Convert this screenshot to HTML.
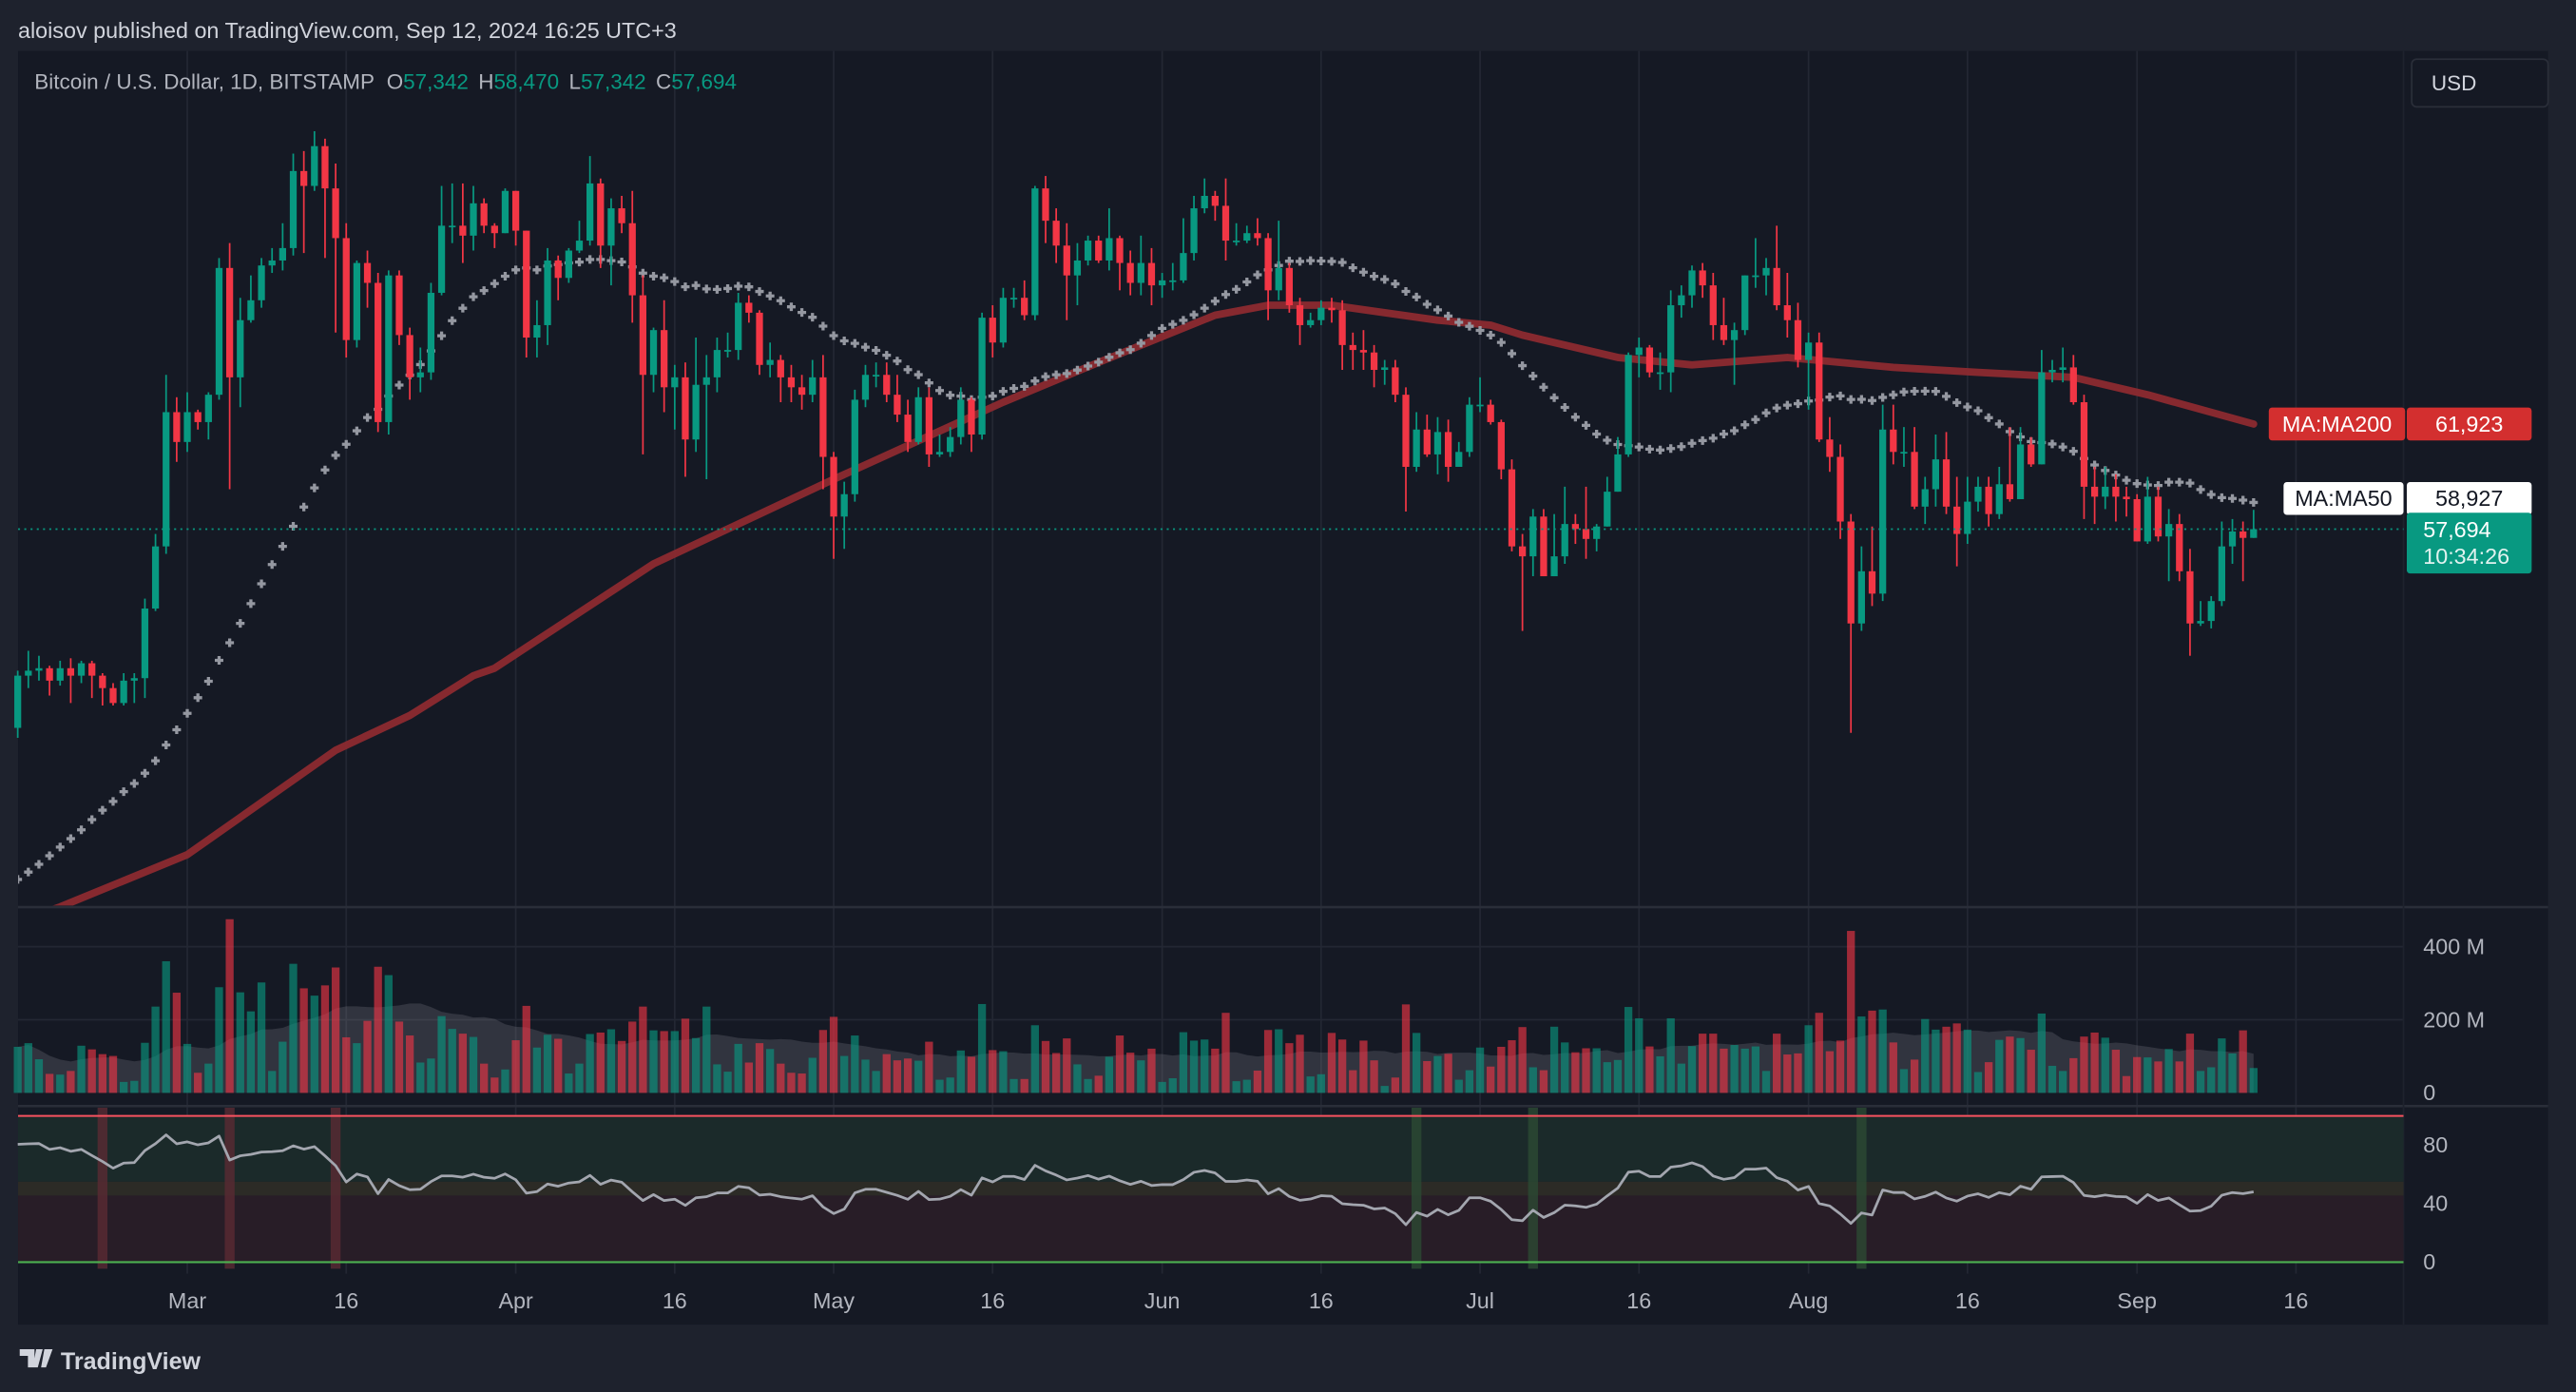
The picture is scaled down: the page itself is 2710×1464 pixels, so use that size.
<!DOCTYPE html>
<html><head><meta charset="utf-8">
<style>
html,body{margin:0;padding:0;background:#1e222d;}
svg{display:block;font-family:"Liberation Sans",sans-serif;}
</style></head>
<body>
<svg id="chart" width="2710" height="1464" viewBox="0 0 1568 847" preserveAspectRatio="none" xmlns="http://www.w3.org/2000/svg">
<rect x="0" y="0" width="1568" height="847" fill="#1e222d"/>
<text x="11" y="23" font-size="13.5" fill="#d1d4dc">aloisov published on TradingView.com, Sep 12, 2024 16:25 UTC+3</text>
<rect x="11" y="31" width="1540" height="775" fill="#151924"/>
<g id="grid"></g>
<g id="rsiBg"></g>
<g id="vol"></g>
<g id="ma200g"></g>
<g id="ma50g"></g>
<g id="candles"></g>
<g id="rsig"></g>
<g id="axes"></g>
<text x="21" y="54" font-size="13" fill="#b2b5be">Bitcoin / U.S. Dollar, 1D, BITSTAMP <tspan dx="4">O</tspan><tspan fill="#089981">57,342</tspan><tspan dx="6">H</tspan><tspan fill="#089981">58,470</tspan><tspan dx="6">L</tspan><tspan fill="#089981">57,342</tspan><tspan dx="6">C</tspan><tspan fill="#089981">57,694</tspan></text>
<rect x="1468" y="36" width="83" height="29" rx="3" fill="#151924" stroke="#2a2e39"/>
<text x="1480" y="55" font-size="13" fill="#d1d4dc">USD</text>
<g>
<path d="M12 821h9v11h-4v-7h-5z M22 821h4l-3 11h-3z M27 821h5l-4 11h-3z" fill="#d1d4dc"/>
<text x="37" y="833" font-size="14.5" font-weight="bold" fill="#d1d4dc">TradingView</text>
</g>
</svg>
<script>
const historyCloses=[41.9,42.3,41.4,42.7,42.3,43.7,43.9,43.9,43.7,43.0,43.6,42.5,43.5,42.6,42.1,42.1,42.3,44.2,45.0,42.8,44.2,44.2,43.9,43.9,47.0,46.1,46.6,46.4,42.8,42.9,41.7,42.5,43.1,42.7,41.3,41.6,41.7,41.6,39.5,39.9,40.1,39.9,41.8,42.1,42.0,43.3,42.9,42.6,43.1,43.2,43.0,42.6,42.7,43.1,44.3,45.3,47.1,47.8,48.3,50.0,49.7];
const closes=[51.8,52.0,52.1,51.6,52.1,51.8,52.3,51.8,51.3,50.7,51.6,51.7,54.5,57.0,62.4,61.2,
62.4,62.0,63.1,68.2,63.8,66.1,66.9,68.3,68.5,69.0,72.1,71.5,73.1,71.4,69.4,65.3,68.4,67.6,62.0,67.9,65.5,63.8,64.0,67.2,69.9,69.9,69.5,70.8,69.9,69.6,71.3,
69.7,65.4,65.9,68.5,67.8,68.9,69.3,71.6,69.1,70.6,70.0,67.1,63.9,65.7,63.4,63.8,61.3,63.5,63.8,64.9,64.9,66.8,66.4,64.3,64.5,63.8,63.4,63.1,63.8,60.6,
58.2,59.1,62.9,63.9,63.9,63.1,62.3,61.2,63.0,60.7,60.8,61.4,62.9,61.5,66.2,65.2,67.0,67.0,66.3,71.4,70.1,69.1,67.9,68.5,69.3,68.5,69.4,68.4,67.6,68.4,67.5,
67.7,67.7,68.8,70.6,71.1,70.7,69.3,69.3,69.6,69.4,67.3,68.2,66.7,65.9,66.1,66.6,66.5,65.1,64.9,64.8,64.1,64.2,63.1,60.2,61.7,60.7,61.6,60.2,60.8,62.7,
62.7,62.0,60.1,57.0,56.6,58.2,55.8,56.6,57.9,57.7,57.3,57.8,59.2,60.7,64.7,65.0,64.0,64.0,66.7,67.1,68.1,67.5,65.9,65.3,65.7,67.9,67.9,68.2,66.7,66.1,64.5,
65.2,61.3,60.6,58.0,53.9,56.0,55.1,61.7,60.8,60.8,58.6,59.3,60.5,58.6,57.5,58.8,59.4,58.3,59.5,58.9,61.1,60.3,64.0,64.1,64.2,62.8,59.4,59.0,59.4,59.0,58.9,
57.2,59.0,57.4,57.9,56.0,53.9,54.0,54.8,57.0,57.6,57.342,57.694];
const highs=[52.0,52.8,52.6,52.2,52.4,52.5,52.4,52.4,51.9,51.5,51.9,51.9,54.9,57.5,63.9,63.0,
63.2,62.5,63.2,68.6,69.2,67.0,67.9,68.6,69.0,70.0,72.8,72.9,73.7,73.4,72.4,70.0,68.5,68.9,68.0,68.1,68.1,65.8,65.0,67.6,71.5,71.6,71.6,71.5,71.0,70.0,71.4,
71.3,69.7,66.9,69.0,68.7,69.0,70.1,72.7,71.8,71.0,71.1,71.3,67.9,65.8,66.9,64.3,64.4,65.4,64.7,65.4,65.6,67.2,67.1,66.5,65.2,64.7,64.3,63.9,64.5,64.7,
60.8,59.6,63.3,64.3,64.4,64.4,63.9,62.9,63.4,63.4,61.5,61.8,63.4,63.0,66.4,66.7,67.4,67.4,67.7,71.5,71.9,70.6,70.0,69.2,69.5,69.5,70.6,69.5,68.9,69.5,69.0,
68.0,68.4,70.2,71.1,71.8,71.3,71.8,70.0,69.9,70.2,69.6,70.1,68.4,67.0,66.4,66.9,67.0,66.9,65.6,65.7,65.1,64.5,64.5,63.4,62.4,62.3,62.2,62.1,61.2,63.0,
63.8,62.9,62.1,60.5,57.5,58.5,58.5,58.3,59.4,58.3,59.4,57.9,59.8,61.4,64.8,65.4,65.1,64.8,67.3,67.5,68.3,68.4,68.0,67.0,66.0,67.9,69.4,68.6,69.9,68.0,66.8,
65.6,65.6,62.2,61.1,58.3,57.0,57.8,62.7,62.7,61.8,61.8,59.8,61.5,61.6,59.8,59.8,59.8,59.8,60.2,61.8,61.8,61.4,64.9,64.5,65.0,64.7,63.1,60.2,60.2,59.9,59.4,
59.1,59.8,59.4,58.5,58.3,56.9,54.8,55.0,58.0,58.1,58.0,58.47];
const lows=[49.3,51.3,51.6,51.0,51.4,50.7,51.5,50.9,50.6,50.6,50.6,50.7,50.9,54.4,56.7,60.4,
60.8,61.7,61.3,62.9,59.3,62.6,66.0,66.6,68.0,68.1,68.7,68.8,71.3,68.6,65.6,64.6,65.0,66.6,61.6,61.5,65.1,62.9,63.2,63.7,67.1,69.2,68.4,68.9,69.6,69.0,69.6,
69.1,64.6,64.6,65.1,66.9,67.6,68.8,69.1,68.2,67.5,69.6,66.0,60.7,63.2,62.4,61.7,59.8,60.8,59.7,63.2,64.6,64.5,66.0,63.9,63.8,62.8,62.8,62.5,62.8,59.3,
56.5,56.9,58.8,62.6,63.4,62.8,62.0,60.8,61.1,60.2,60.6,60.6,61.1,60.8,61.3,64.6,65.0,66.6,66.1,66.1,69.2,68.4,66.1,66.7,68.3,68.4,68.1,67.3,67.1,67.1,66.7,
67.0,67.3,67.6,68.5,70.4,70.1,68.5,69.1,69.2,69.1,66.1,66.9,66.4,65.1,65.8,65.9,66.0,64.1,64.1,64.1,63.4,63.5,62.8,58.4,60.0,60.6,59.9,59.6,60.3,60.6,
62.4,61.9,59.7,56.8,53.6,55.8,55.8,55.8,56.3,57.1,56.5,56.8,57.8,59.5,60.6,63.8,63.8,63.3,63.2,66.2,66.6,67.0,65.3,65.1,63.5,65.5,67.4,67.1,66.5,65.4,64.2,
62.5,61.2,60.0,57.3,49.5,53.6,54.6,54.8,60.3,60.2,58.5,57.9,58.6,58.3,56.2,57.1,58.4,57.8,58.1,58.8,58.9,60.2,60.4,63.6,63.6,62.7,58.1,57.9,58.5,58.0,58.2,
57.2,57.1,57.2,55.6,55.6,52.6,53.8,53.7,54.6,56.3,55.6,57.342];
const volumes=[126,136,92,52,50,60,129,119,106,101,30,33,137,236,360,274,134,55,80,289,475,275,223,302,60,140,353,286,266,294,343,152,136,197,345,322,195,157,83,94,210,175,162,153,80,42,64,144,238,124,159,148,53,80,161,165,174,142,195,236,171,169,169,203,150,236,78,58,134,83,136,120,80,55,53,96,172,208,101,157,91,60,106,89,94,88,140,36,42,116,99,243,117,114,38,38,185,142,109,149,78,38,47,99,157,110,
89,121,30,40,166,143,146,121,219,32,36,61,172,174,136,159,45,51,164,146,62,143,89,19,42,242,164,87,101,107,36,62,124,72,126,144,180,70,62,181,138,111,122,122,84,90,235,204,127,100,204,80,128,162,162,121,131,121,127,60,162,105,108,185,219,114,143,443,209,225,228,138,65,91,202,173,181,190,173,57,84,145,154,150,118,217,74,60,95,154,165,151,118,46,98,97,86,120,86,162,60,70,149,108,171,68];
const ma200Days=[0,4,16,30,37,43,45,60,77,93,102,113,118,124,134,139,142,151,158,167,177,185,194,201,211];
const ma200Values=[41.9,42.5,44.6,48.8,50.2,51.8,52.1,56.3,59.7,62.8,64.4,66.3,66.7,66.7,66.1,65.9,65.5,64.6,64.3,64.6,64.2,64.0,63.8,63.1,61.923];
const rsiRedDays=[8,20,30];
const rsiGreenDays=[132,143,174];
const priceTicks=[45000,47500,50000,52500,55000,57500,60000,62500,65000,67500,70000,72500];
const priceTickLabels=["45,000","47,500","50,000","52,500","55,000","","60,000","62,500","65,000","67,500","70,000","72,500"];
const dateTickDays=[16,31,47,62,77,92,108,123,138,153,169,184,200,215];
const dateTickLabels=["Mar","16","Apr","16","May","16","Jun","16","Jul","16","Aug","16","Sep","16"];
const volTicks=[0,200,400];
const volTickLabels=["0","200 M","400 M"];
const rsiTicks=[0,40,80];
const maLength=30;

const NS="http://www.w3.org/2000/svg";
function X(d){return 114+(d-16)*6.45;}
function Y(p){return 98+(72.5-p)*15.127;}
function YV(v){return 665-v*0.2225;}
function YR(r){return 768-r*0.89;}
function el(tag,attrs,parent){const e=document.createElementNS(NS,tag);for(const k in attrs)e.setAttribute(k,attrs[k]);parent.appendChild(e);return e;}
const G=id=>document.getElementById(id);
const green="#089981",red="#f23645";

const grid=G('grid');
dateTickDays.forEach((d,i)=>{const l=el('line',{x1:X(d),x2:X(d),y1:31,y2:775,stroke:'#232733','stroke-width':1},grid);

});
priceTicks.forEach(p=>{const l=el('line',{x1:11,x2:1463,y1:Y(p),y2:Y(p),stroke:'#232733','stroke-width':1},grid);

});
[YV(200),YV(400),YR(80),YR(43)].forEach(y=>{const l=el('line',{x1:11,x2:1463,y1:y,y2:y,stroke:'#232733'},grid);

});
[552,673].forEach(y=>{const l=el('line',{x1:11,x2:1551,y1:y,y2:y,stroke:'#2a2e39','stroke-width':1.5},grid);

});
const vsep=el('line',{x1:1463,x2:1463,y1:31,y2:806,stroke:'#1e222d','stroke-width':1},grid);



const rb=G('rsiBg');
const z1=el('rect',{x:11,y:YR(100),width:1452,height:YR(55)-YR(100),fill:'#1b2a2a'},rb);


const z2=el('rect',{x:11,y:YR(55),width:1452,height:YR(45.5)-YR(55),fill:'#2c2b26'},rb);


const z3=el('rect',{x:11,y:YR(45.5),width:1452,height:YR(0)-YR(45.5),fill:'#281d27'},rb);


rsiRedDays.forEach(d=>{const s=el('rect',{x:X(d)-3,y:674,width:6,height:98,fill:'#5a2a33',opacity:0.8},rb);

});
rsiGreenDays.forEach(d=>{const s=el('rect',{x:X(d)-3,y:674,width:6,height:98,fill:'#2c4a33',opacity:0.8},rb);

});
const rl1=el('line',{x1:11,x2:1463,y1:YR(100),y2:YR(100),stroke:'#f7525f','stroke-width':1.2},rb);


const rl2=el('line',{x1:11,x2:1463,y1:YR(0),y2:YR(0),stroke:'#4caf50','stroke-width':1.2},rb);



const opens=closes.map((c,i)=>i===0?historyCloses[historyCloses.length-1]:closes[i-1]);

const vg=G('vol');
const vma=volumes.map((v,i)=>{const s=volumes.slice(Math.max(0,i-19),i+1);return s.reduce((a,b)=>a+b,0)/s.length;});
let ap='M'+X(0)+','+YV(0);
vma.forEach((v,i)=>{ap+=' L'+X(i)+','+YV(v);});
ap+=' L'+X(vma.length-1)+','+YV(0)+' Z';
const area=el('path',{d:ap,fill:'#9598a1',opacity:0.22},vg);


volumes.forEach((v,i)=>{const up=closes[i]>=opens[i];
const b=el('rect',{x:X(i)-2.4,y:YV(v),width:4.8,height:YV(0)-YV(v),fill:up?green:red,opacity:0.62},vg);

});

let m2='';
ma200Days.forEach((d,i)=>{m2+=(i?' L':'M')+X(d)+','+Y(ma200Values[i]);});
const m2p=el('path',{d:m2,fill:'none',stroke:'#8c2a30','stroke-width':4.5,'stroke-linecap':'round','stroke-linejoin':'round',opacity:0.95},G('ma200g'));


const clip=el('clipPath',{id:'pc'},G('chart'));
el('rect',{x:11,y:31,width:1452,height:520},clip);
G('ma200g').setAttribute('clip-path','url(#pc)');
G('ma50g').setAttribute('clip-path','url(#pc)');

const all=historyCloses.concat(closes);
const off=historyCloses.length;
const mg=G('ma50g');
closes.forEach((c,i)=>{const k=off+i;const s=all.slice(k-maLength+1,k+1);const m=s.reduce((a,b)=>a+b,0)/s.length;
const x=X(i),y=Y(m);
const p=el('path',{d:`M${x-2.6},${y}h5.2M${x},${y-2.6}v5.2`,stroke:'#9598a1','stroke-width':1.9},mg);

});

const cg=G('candles');
closes.forEach((c,i)=>{const o=opens[i];const h=Math.max(highs[i],o,c),l=Math.min(lows[i],o,c);
const col=c>=o?green:red;const x=X(i);
const w=el('line',{x1:x,x2:x,y1:Y(h),y2:Y(l),stroke:col,'stroke-width':1},cg);


const top=Y(Math.max(o,c)),bot=Y(Math.min(o,c));
const b=el('rect',{x:x-2.1,y:top,width:4.2,height:Math.max(1,bot-top),fill:col},cg);

});

const last=closes[closes.length-1];
const lp=el('line',{x1:11,x2:1463,y1:Y(last),y2:Y(last),stroke:'#089981','stroke-width':1,'stroke-dasharray':'1.2,2.6'},G('axes'));



let gains=0,losses=0;const N=14;
for(let k=1;k<=N;k++){const ch=all[k]-all[k-1];if(ch>0)gains+=ch;else losses-=ch;}
let ag=gains/N,al=losses/N;const rsi=[];
for(let k=N+1;k<all.length;k++){const ch=all[k]-all[k-1];ag=(ag*(N-1)+Math.max(ch,0))/N;al=(al*(N-1)+Math.max(-ch,0))/N;
if(k>=off)rsi.push(100-100/(1+ag/al));}
let rp='';rsi.forEach((r,i)=>{rp+=(i?' L':'M')+X(i)+','+YR(r);});
const rpl=el('path',{d:rp,fill:'none',stroke:'#a3a6af','stroke-width':1.6,'stroke-linejoin':'round'},G('rsig'));



const ax=G('axes');
priceTicks.forEach((p,i)=>{if(!priceTickLabels[i])return;const t=el('text',{x:1522,y:Y(p)+4.5,'font-size':13.5,fill:'#b2b5be','text-anchor':'end'},ax);t.textContent=priceTickLabels[i];

});
volTicks.forEach((v,i)=>{const t=el('text',{x:1475,y:YV(v)+4.5,'font-size':13.5,fill:'#b2b5be'},ax);t.textContent=volTickLabels[i];

});
rsiTicks.forEach(r=>{const t=el('text',{x:1475,y:YR(r)+4.5,'font-size':13.5,fill:'#b2b5be'},ax);t.textContent=String(r);

});
dateTickDays.forEach((d,i)=>{const t=el('text',{x:X(d),y:796,'font-size':13.5,fill:'#b2b5be','text-anchor':'middle'},ax);t.textContent=dateTickLabels[i];

});

function badge(x,y,w,h,fill,txt,tcol,name){const r=el('rect',{x:x,y:y,width:w,height:h,rx:2,fill:fill},ax);


const t=el('text',{x:x+w/2,y:y+h/2+4.6,'font-size':13.5,fill:tcol,'text-anchor':'middle'},ax);t.textContent=txt;

}
const m200last=ma200Values[ma200Values.length-1];
badge(1381,Y(m200last)-10,83,20,'#d32f2f','MA:MA200','#ffffff','ma200-name-badge');
badge(1465,Y(m200last)-10,76,20,'#d32f2f',Math.round(m200last*1000).toLocaleString('en-US'),'#ffffff','ma200-value-badge');
badge(1390,Y(58.927)-10,73,20,'#ffffff','MA:MA50','#131722','ma50-name-badge');
badge(1465,Y(58.927)-10,76,20,'#ffffff','58,927','#131722','ma50-value-badge');
const pb=el('rect',{x:1465,y:Y(last)-10,width:76,height:37,rx:2,fill:'#089981'},ax);


const pt=el('text',{x:1475,y:Y(last)+5,'font-size':13.5,fill:'#ffffff'},ax);pt.textContent=Math.round(last*1000).toLocaleString('en-US');


const ct=el('text',{x:1475,y:Y(last)+21,'font-size':13.5,fill:'#e0f2ef'},ax);ct.textContent='10:34:26';


</script>
</body></html>
